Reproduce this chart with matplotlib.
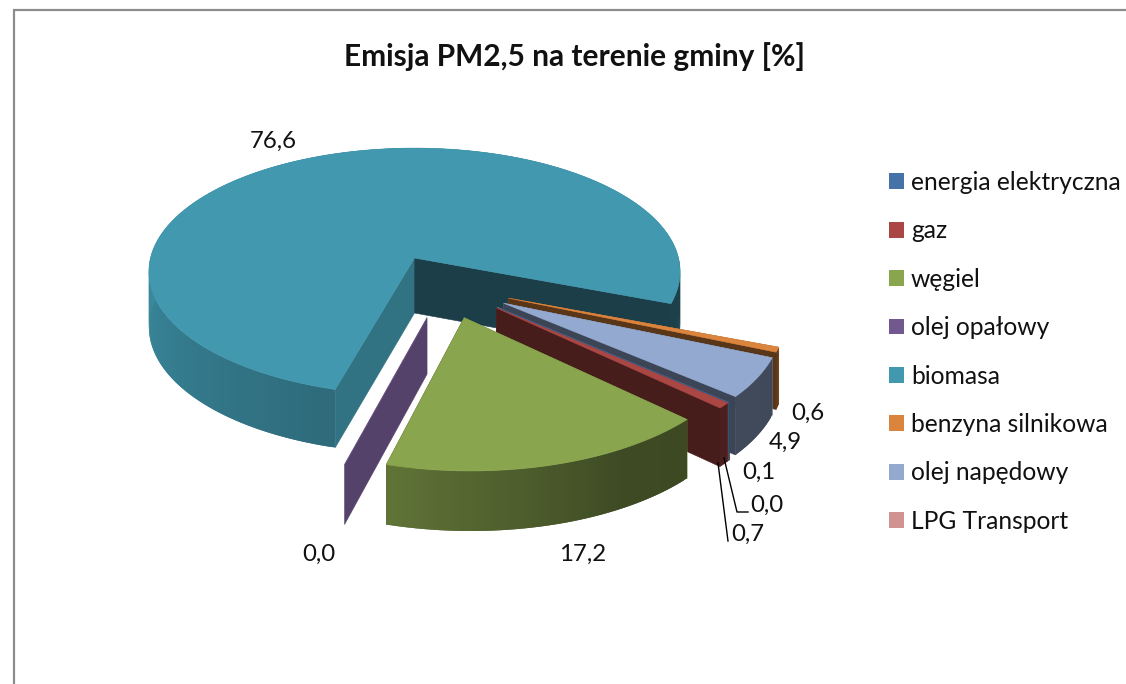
import numpy as np
import matplotlib
matplotlib.use("Agg")
import matplotlib.pyplot as plt
from matplotlib.collections import PolyCollection
from matplotlib.patches import Patch
from matplotlib.colors import to_rgb

plt.rcParams['font.family'] = ['Lato', 'DejaVu Sans']

title = "Emisja PM2,5 na terenie gminy [%]"
categories = ["energia elektryczna", "gaz", "węgiel", "olej opałowy", "biomasa",
              "benzyna silnikowa", "olej napędowy", "LPG Transport"]
values = [0.0, 0.7, 17.2, 0.0, 76.6, 0.6, 4.9, 0.1]
value_labels = ["0,0", "0,7", "17,2", "0,0", "76,6", "0,6", "4,9", "0,1"]
colors = ["#4572a7", "#aa4643", "#89a54e", "#71588f", "#4198af", "#db843d", "#93a9cf", "#d19392"]
label_pos = [(767, 505), (748, 534), (583, 554), (319, 554), (273, 141), (808, 413), (785, 442), (759, 472)]

# projection parameters of the 3-D pie, in figure pixels
CX, CY, RX, RY, PERSP, DEPTH = 414.5, 258.0, 264.0, 122.0, 0.11, 55.0
START = 41.2
EXPLODE = 0.25
FOCUS = 4          # biomass slice sits on the projection centre
WALL_A, WALL_B = 0.75, 0.41

def project(x, y):
    w = 1 - PERSP * y
    return CX + RX * x / w, CY + RY * y / w, DEPTH / np.sqrt(w)

def side_shade(t):
    return np.interp(t % 360, [0, 60, 105, 180, 360], [0.42, 0.45, 0.70, 0.90, 0.90])

def dark(c, f):
    return tuple(v * f for v in to_rgb(c))

fig = plt.figure(figsize=(11.26, 6.84), dpi=100)
ax = fig.add_axes([0, 0, 1, 1])
ax.set_xlim(0, 1126)
ax.set_ylim(684, 0)
ax.axis("off")

# chart frame
ax.plot([13.5, 13.5, 1126], [684, 10, 10], color="#8c8c8c", lw=1.6, solid_joinstyle="miter")

sweep = np.array(values) / sum(values) * 360
starts = START + np.concatenate([[0], np.cumsum(sweep)[:-1]])
bis = np.radians(starts + sweep / 2)
ox = EXPLODE * (np.cos(bis) - np.cos(bis[FOCUS]))
oy = EXPLODE * (np.sin(bis) - np.sin(bis[FOCUS]))

draw_order = [4, 5, 7, 6, 0, 1, 3, 2]
for z, i in enumerate(draw_order):
    n = max(3, int(sweep[i]) + 2)
    th = np.linspace(starts[i], starts[i] + sweep[i], n)
    rad = np.radians(th)
    X, Y, H = project(ox[i] + np.cos(rad), oy[i] + np.sin(rad))
    ax_, ay_, ah_ = project(ox[i], oy[i])
    c = colors[i]
    z0 = 10 + 5 * z
    # wall at the start of the slice
    ax.fill([ax_, X[0], X[0], ax_], [ay_, Y[0], Y[0] + H[0], ay_ + ah_],
            color=dark(c, WALL_A), lw=0.4, zorder=z0)
    # wall at the end of the slice (a zero slice shows just one wall)
    if sweep[i] > 0:
        ax.fill([ax_, X[-1], X[-1], ax_], [ay_, Y[-1], Y[-1] + H[-1], ay_ + ah_],
                color=dark(c, WALL_B), lw=0.4, zorder=z0 + 1)
    # outer rim with shading: overlapping quads avoid seams
    quads = []
    shades = []
    for k in range(n - 1):
        e = min(k + 2, n - 1)
        quads.append([(X[k], Y[k]), (X[e], Y[e]), (X[e], Y[e] + H[e]), (X[k], Y[k] + H[k])])
        shades.append(dark(c, side_shade((th[k] + th[k + 1]) / 2)))
    ax.add_collection(PolyCollection(quads, facecolors=shades, edgecolors="none", zorder=z0 + 2))
    # top face
    ax.fill(np.r_[ax_, X], np.r_[ay_, Y], facecolor=c, edgecolor=c, lw=0.4, zorder=z0 + 3)

# leader lines
ax.plot([724, 737, 748], [458, 512, 512], color="black", lw=1.0, zorder=80)
ax.plot([718, 728], [463, 541], color="black", lw=1.0, zorder=80)

for (px, py), s in zip(label_pos, value_labels):
    ax.text(px, py, s, ha="center", va="center", fontsize=17.3, color="#111111", zorder=90)

ax.text(575, 57, title, ha="center", va="center", fontsize=21.5, fontweight="bold", color="#111111")

handles = [Patch(facecolor=c, edgecolor="none") for c in colors]
ax.legend(handles, categories, loc="upper left", bbox_to_anchor=(889 / 1126, 1 - 171 / 684),
          bbox_transform=fig.transFigure, frameon=False, fontsize=17.7, labelcolor="#111111",
          handlelength=0.61, handleheight=0.61, handletextpad=0.285, labelspacing=1.033,
          borderaxespad=0, borderpad=0)

fig.savefig("out.png", dpi=100)
